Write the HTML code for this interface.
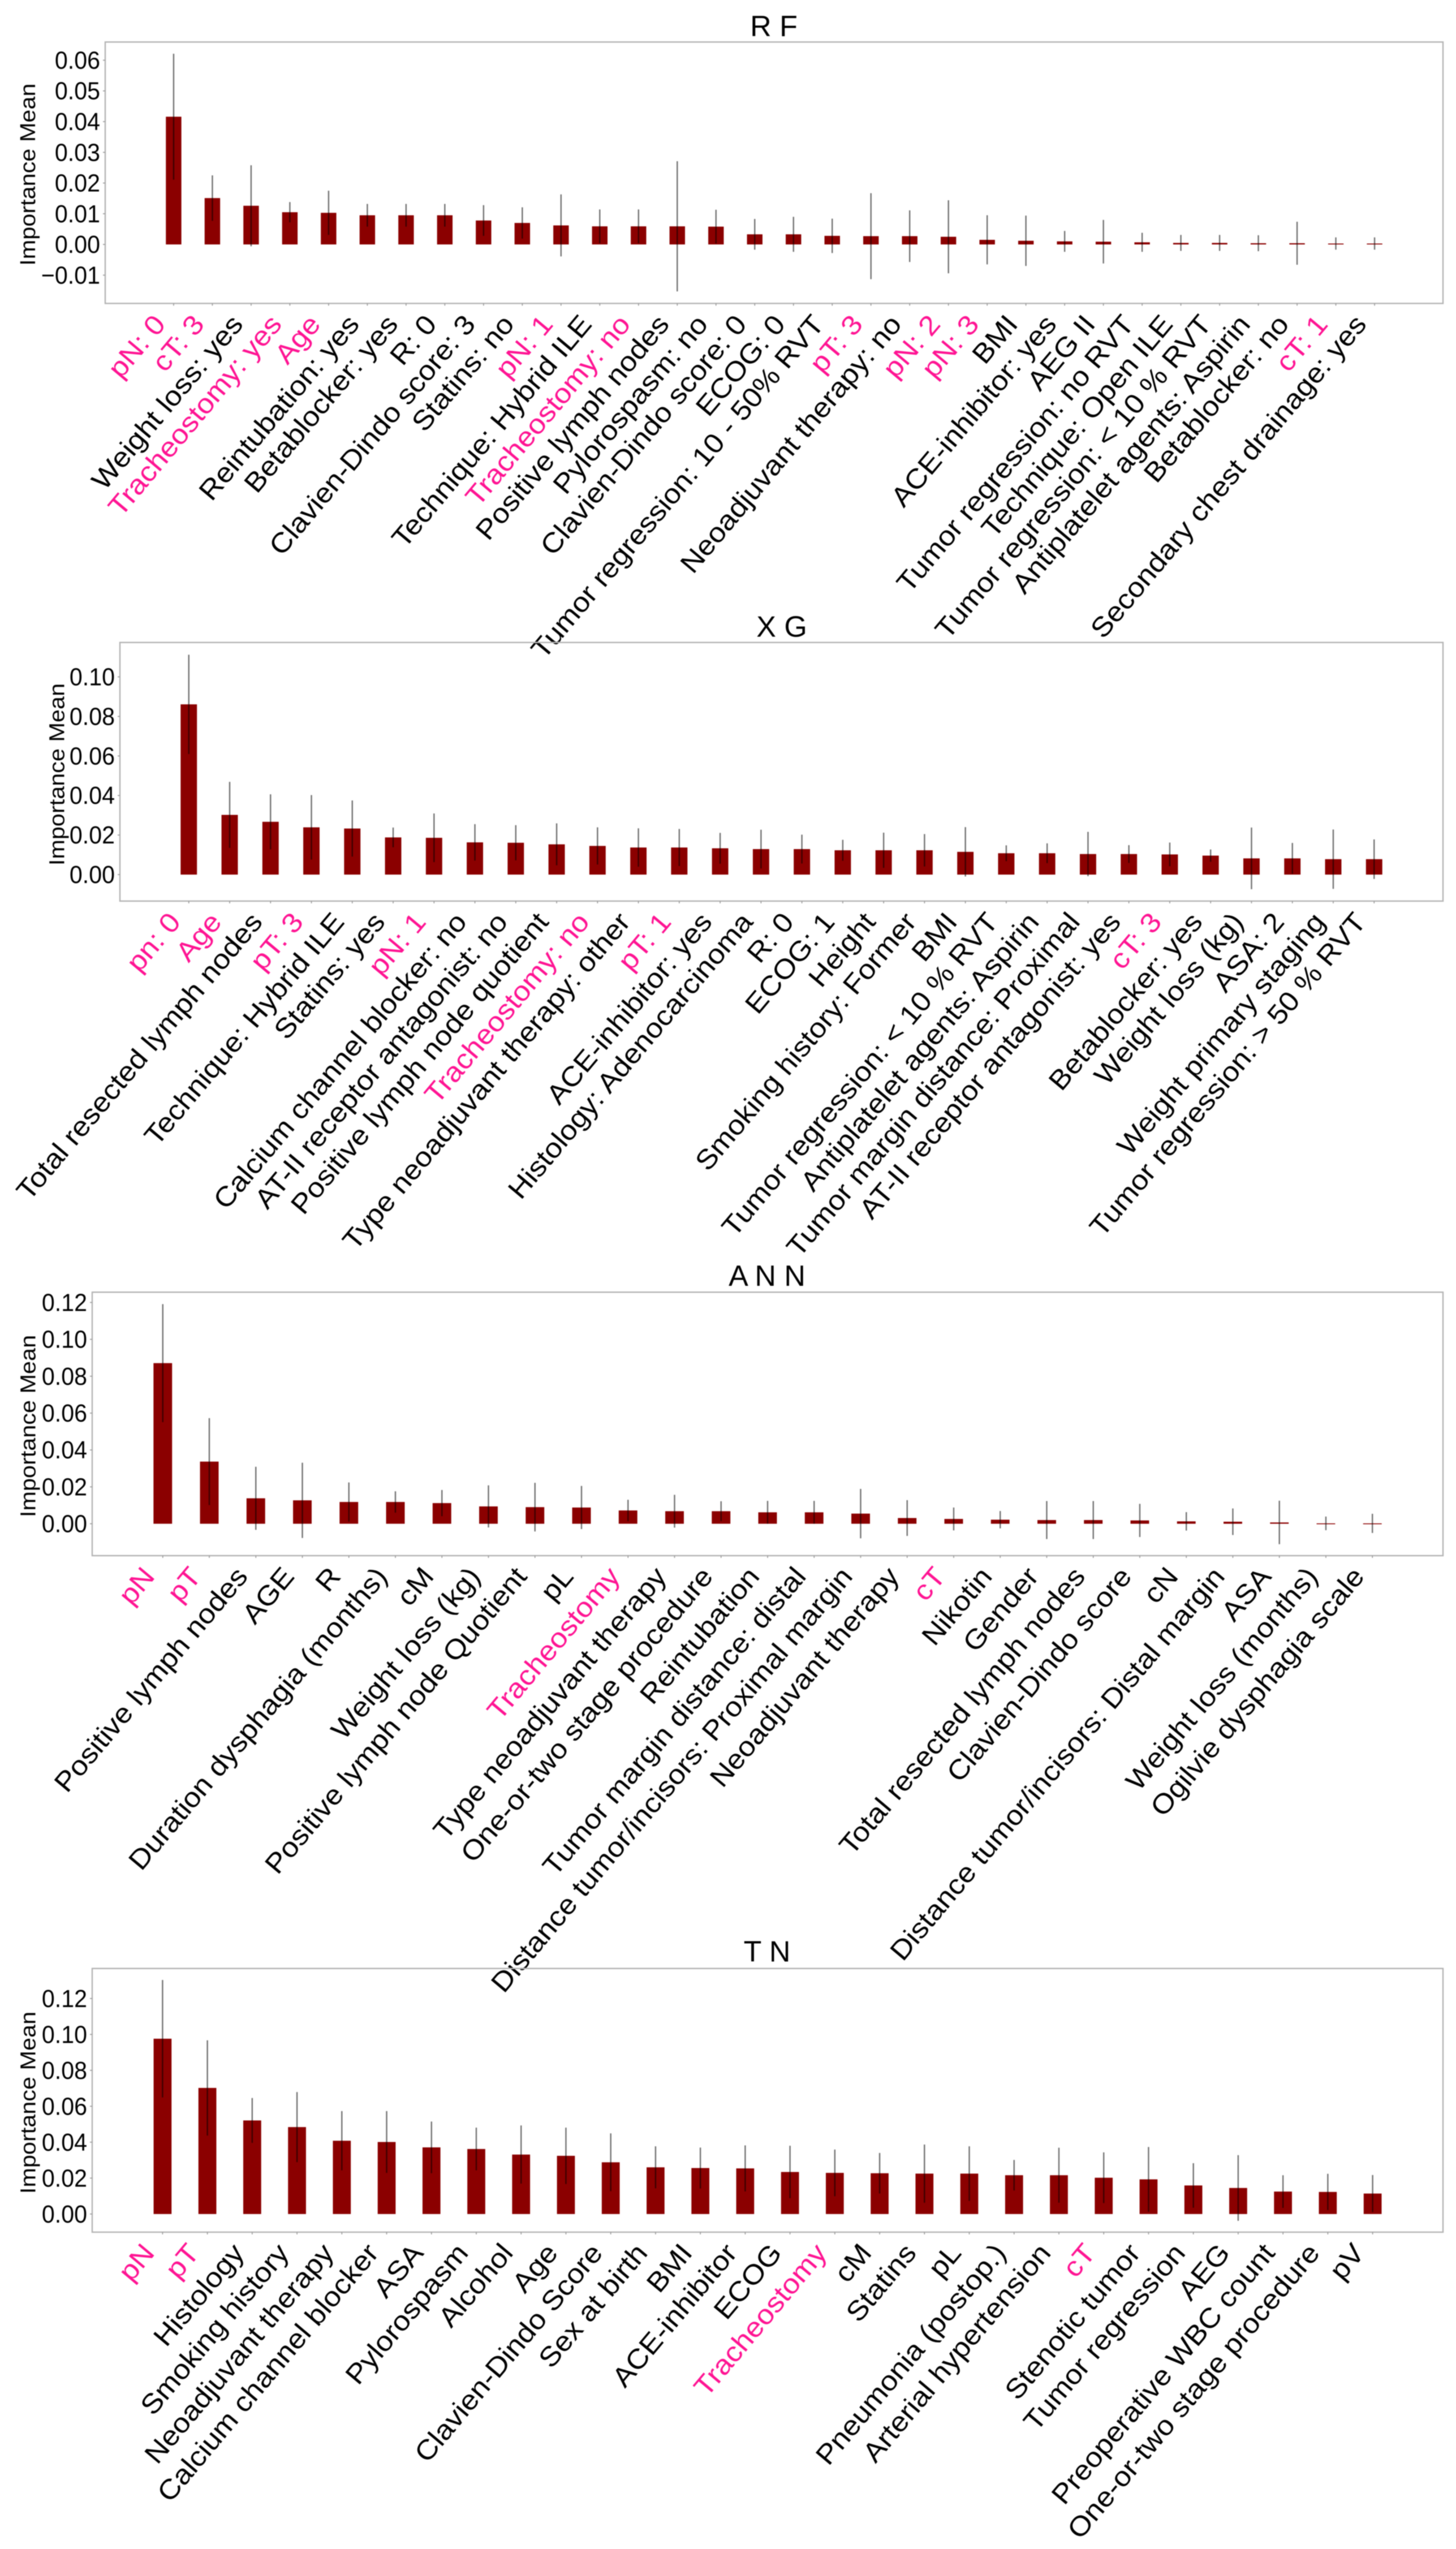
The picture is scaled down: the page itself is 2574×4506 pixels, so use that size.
<!DOCTYPE html>
<html lang="en">
<head>
<meta charset="utf-8">
<title>Feature importance: RF, XG, ANN, TN</title>
<style>
html,body{margin:0;padding:0;background:#fff;}
svg{display:block;filter:blur(0.7px);}
text{font-family:"Liberation Sans",Arial,sans-serif;fill:#000;}
</style>
</head>
<body>
<svg id="figure" xmlns="http://www.w3.org/2000/svg" width="2574" height="4506" viewBox="0 0 2574 4506">
  <rect x="0" y="0" width="2574" height="4506" fill="#fff"/>
  <g id="panel-rf">
    <text text-anchor="middle" font-size="52" transform="translate(1368,64)">R F</text>
    <text text-anchor="middle" font-size="38" transform="translate(62,308.6) rotate(-90) scale(1.09,1)">Importance Mean</text>
  </g>
  <g id="panel-xg">
    <text text-anchor="middle" font-size="52" transform="translate(1382,1125.7)">X G</text>
    <text text-anchor="middle" font-size="38" transform="translate(113.5,1369) rotate(-90) scale(1.09,1)">Importance Mean</text>
  </g>
  <g id="panel-ann">
    <text text-anchor="middle" font-size="52" transform="translate(1356,2272.9)">A N N</text>
    <text text-anchor="middle" font-size="38" transform="translate(62.5,2521) rotate(-90) scale(1.09,1)">Importance Mean</text>
  </g>
  <g id="panel-tn">
    <text text-anchor="middle" font-size="52" transform="translate(1356,3467.6)">T N</text>
    <text text-anchor="middle" font-size="38" transform="translate(62.5,3717) rotate(-90) scale(1.09,1)">Importance Mean</text>
  </g>
</svg>
<script>
const rfCategories = ["pN: 0","cT: 3","Weight loss: yes","Tracheostomy: yes","Age","Reintubation: yes","Betablocker: yes","R: 0","Clavien-Dindo score: 3","Statins: no","pN: 1","Technique: Hybrid ILE","Tracheostomy: no","Positive lymph nodes","Pylorospasm: no","Clavien-Dindo score: 0","ECOG: 0","Tumor regression: 10 - 50% RVT","pT: 3","Neoadjuvant therapy: no","pN: 2","pN: 3","BMI","ACE-inhibitor: yes","AEG II","Tumor regression: no RVT","Technique: Open ILE","Tumor regression: < 10 % RVT","Antiplatelet agents: Aspirin","Betablocker: no","cT: 1","Secondary chest drainage: yes"];
const rfMeans = [0.0416,0.0151,0.0126,0.0105,0.0103,0.0095,0.0095,0.0095,0.0078,0.0070,0.0062,0.0059,0.0059,0.0059,0.0058,0.0033,0.0033,0.0028,0.0027,0.0027,0.0025,0.0015,0.0012,0.0010,0.0009,0.0007,0.0005,0.0005,0.0004,0.0004,0.0003,0.0003];
const rfStds = [0.0205,0.0074,0.0132,0.0033,0.0072,0.0037,0.0037,0.0037,0.0050,0.0051,0.0101,0.0055,0.0055,0.0212,0.0055,0.0050,0.0057,0.0056,0.0140,0.0084,0.0119,0.0080,0.0082,0.0034,0.0071,0.0031,0.0026,0.0026,0.0026,0.0070,0.0020,0.0020];
const rfTicks = [-0.01,0,0.01,0.02,0.03,0.04,0.05,0.06];
const rfHighlighted = ["pN: 0","cT: 3","Tracheostomy: yes","Age","pN: 1","Tracheostomy: no","pT: 3","pN: 2","pN: 3","cT: 1"];

const xgCategories = ["pn: 0","Age","Total resected lymph nodes","pT: 3","Technique: Hybrid ILE","Statins: yes","pN: 1","Calcium channel blocker: no","AT-II receptor antagonist: no","Positive lymph node quotient","Tracheostomy: no","Type neoadjuvant therapy: other","pT: 1","ACE-inhibitor: yes","Histology: Adenocarcinoma","R: 0","ECOG: 1","Height","Smoking history: Former","BMI","Tumor regression: < 10 % RVT","Antiplatelet agents: Aspirin","Tumor margin distance: Proximal","AT-II receptor antagonist: yes","cT: 3","Betablocker: yes","Weight loss (kg)","ASA: 2","Weight primary staging","Tumor regression: > 50 % RVT"];
const xgMeans = [0.0861,0.0302,0.0267,0.0239,0.0233,0.0188,0.0186,0.0163,0.0161,0.0153,0.0145,0.0137,0.0137,0.0133,0.0129,0.0129,0.0123,0.0123,0.0123,0.0115,0.0108,0.0108,0.0104,0.0104,0.0102,0.0096,0.0082,0.0082,0.0078,0.0078];
const xgStds = [0.0251,0.0167,0.0139,0.0163,0.0142,0.0050,0.0123,0.0092,0.0089,0.0106,0.0094,0.0097,0.0094,0.0078,0.0098,0.0073,0.0053,0.0089,0.0082,0.0125,0.0040,0.0050,0.0112,0.0045,0.0060,0.0031,0.0156,0.0078,0.0150,0.0100];
const xgTicks = [0,0.02,0.04,0.06,0.08,0.10];
const xgHighlighted = ["pn: 0","Age","pT: 3","pN: 1","Tracheostomy: no","pT: 1","cT: 3"];

const annCategories = ["pN","pT","Positive lymph nodes","AGE","R","Duration dysphagia (months)","cM","Weight loss (kg)","Positive lymph node Quotient","pL","Tracheostomy","Type neoadjuvant therapy","One-or-two stage procedure","Reintubation","Tumor margin distance: distal","Distance tumor/incisors: Proximal margin","Neoadjuvant therapy","cT","Nikotin","Gender","Total resected lymph nodes","Clavien-Dindo score","cN","Distance tumor/incisors: Distal margin","ASA","Weight loss (months)","Ogilvie dysphagia scale"];
const annMeans = [0.0871,0.0337,0.0138,0.0127,0.0118,0.0118,0.0112,0.0094,0.0090,0.0088,0.0072,0.0068,0.0068,0.0062,0.0062,0.0055,0.0031,0.0026,0.0022,0.0020,0.0020,0.0018,0.0013,0.0011,0.0007,0.0002,0.0002];
const annStds = [0.0320,0.0236,0.0171,0.0204,0.0106,0.0058,0.0071,0.0114,0.0132,0.0117,0.0058,0.0089,0.0054,0.0062,0.0062,0.0134,0.0097,0.0062,0.0047,0.0103,0.0103,0.0090,0.0050,0.0072,0.0118,0.0037,0.0052];
const annTicks = [0,0.02,0.04,0.06,0.08,0.10,0.12];
const annHighlighted = ["pN","pT","Tracheostomy","cT"];

const tnCategories = ["pN","pT","Histology","Smoking history","Neoadjuvant therapy","Calcium channel blocker","ASA","Pylorospasm","Alcohol","Age","Clavien-Dindo Score","Sex at birth","BMI","ACE-inhibitor","ECOG","Tracheostomy","cM","Statins","pL","Pneumonia (postop.)","Arterial hypertension","cT","Stenotic tumor","Tumor regression","AEG","Preoperative WBC count","One-or-two stage procedure","pV"];
const tnMeans = [0.0976,0.0702,0.0521,0.0484,0.0408,0.0401,0.0371,0.0362,0.0331,0.0324,0.0288,0.0260,0.0256,0.0254,0.0234,0.0229,0.0227,0.0225,0.0225,0.0216,0.0216,0.0202,0.0193,0.0159,0.0145,0.0125,0.0123,0.0114];
const tnStds = [0.0327,0.0265,0.0125,0.0195,0.0165,0.0172,0.0144,0.0119,0.0162,0.0157,0.0161,0.0117,0.0114,0.0128,0.0146,0.0130,0.0113,0.0162,0.0152,0.0085,0.0153,0.0141,0.0180,0.0124,0.0183,0.0091,0.0101,0.0103];
const tnTicks = [0,0.02,0.04,0.06,0.08,0.10,0.12];
const tnHighlighted = ["pN","pT","Tracheostomy","cT"];

const SVG_NS = "http://www.w3.org/2000/svg";

function make(tag, parent) {
  const node = document.createElementNS(SVG_NS, tag);
  parent.appendChild(node);
  return node;
}

function set(node, props) {
  for (const key in props) node.setAttribute(key, props[key]);
}

function drawPanel(prefix, categories, means, stds, ticks, highlighted, box) {
  const group = document.getElementById("panel-" + prefix);
  const step = (box.right - box.left) / (categories.length - 1 + 2 * box.pad);
  const xScale = i => box.left + (i + box.pad) * step;
  const yScale = v => box.bottom - (v - box.yMin) / (box.yMax - box.yMin) * (box.bottom - box.top);

  const frame = make("rect", group);
  
  
  set(frame, {x: box.left, y: box.top, width: box.right - box.left, height: box.bottom - box.top, fill: "none", stroke: "#b4b4b4", "stroke-width": 2.4});

  ticks.forEach(t => {
    const mark = make("line", group);
    
    
    set(mark, {x1: box.left - 4, x2: box.left, y1: yScale(t), y2: yScale(t), stroke: "#999", "stroke-width": 1.6});

    const label = make("text", group);
    
    
    set(label, {"text-anchor": "end", "font-size": 42, transform: `translate(${box.left - 9},${yScale(t) + 15}) scale(0.98,1.03)`});
    label.textContent = t.toFixed(2).replace("-", "\u2212");
  });

  categories.forEach((name, i) => {
    const bar = make("rect", group);
    
    
    const y0 = yScale(0), yv = yScale(means[i]);
    set(bar, {x: xScale(i) - step * 0.2, width: step * 0.4, y: Math.min(y0, yv), height: Math.max(Math.abs(y0 - yv), 1.5), fill: "#8b0000"});

    const err = make("line", group);
    
    
    set(err, {x1: xScale(i), x2: xScale(i), y1: yScale(means[i] - stds[i]), y2: yScale(means[i] + stds[i]), stroke: "#000", "stroke-opacity": 0.55, "stroke-width": 2.4});

    const mark = make("line", group);
    
    
    set(mark, {x1: xScale(i), x2: xScale(i), y1: box.bottom, y2: box.bottom + 4, stroke: "#999", "stroke-width": 1.6});

    const label = make("text", group);
    
    
    set(label, {
      "text-anchor": "end",
      "font-size": 48.6,
      style: highlighted.includes(name) ? "fill:#ff1493" : "",
      transform: `translate(${xScale(i) - 12},${box.bottom + 38}) rotate(-50) scale(1.09,1)`
    });
    label.textContent = name;
  });
}

drawPanel("rf", rfCategories, rfMeans, rfStds, rfTicks, rfHighlighted, {left: 186, right: 2551, top: 74.3, bottom: 536.4, pad: 1.766, yMin: -0.01921, yMax: 0.06592});
drawPanel("xg", xgCategories, xgMeans, xgStds, xgTicks, xgHighlighted, {left: 212, right: 2551, top: 1135.7, bottom: 1592.9, pad: 1.685, yMin: -0.0134, yMax: 0.1174});
drawPanel("ann", annCategories, annMeans, annStds, annTicks, annHighlighted, {left: 163, right: 2551, top: 2284.3, bottom: 2750, pad: 1.517, yMin: -0.0173, yMax: 0.12556});
drawPanel("tn", tnCategories, tnMeans, tnStds, tnTicks, tnHighlighted, {left: 163, right: 2551, top: 3479.8, bottom: 3945.9, pad: 1.57, yMin: -0.0101, yMax: 0.1367});
</script>
</body>
</html>
